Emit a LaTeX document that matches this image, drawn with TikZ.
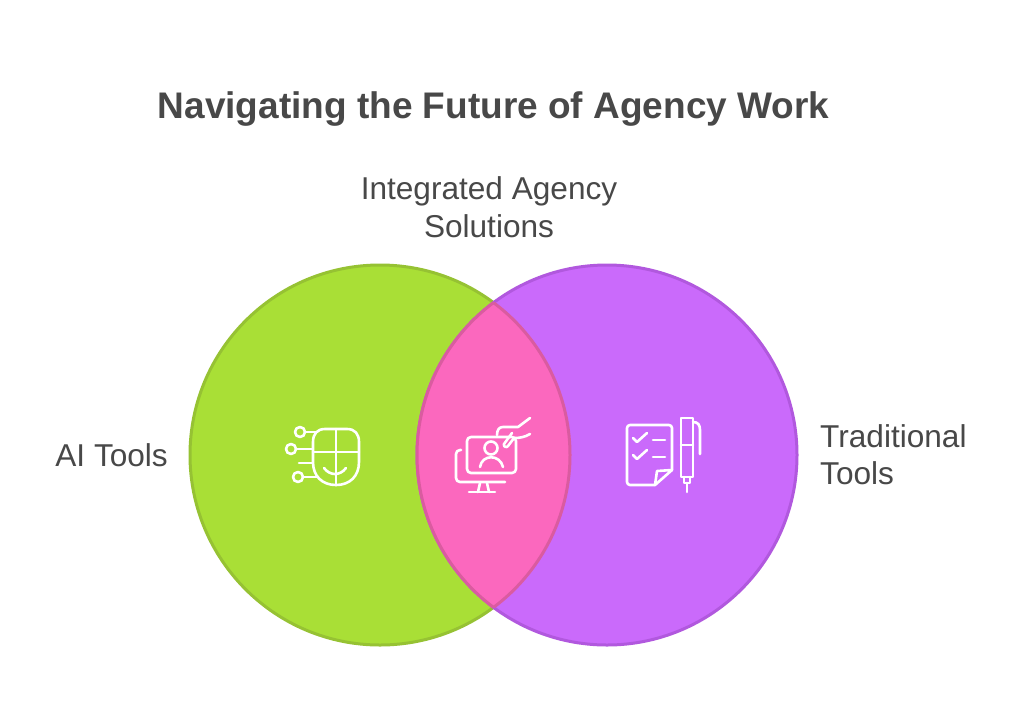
\documentclass[tikz,border=0pt]{standalone}
\usepackage{fontspec}
\setmainfont{Liberation Sans}
\definecolor{textgray}{HTML}{484848}
\definecolor{aifill}{HTML}{A9DF36}
\definecolor{aiedge}{HTML}{96C233}
\definecolor{tradfill}{HTML}{CA6AFB}
\definecolor{tradedge}{HTML}{B158DE}
\definecolor{mixfill}{HTML}{FB68BE}
\definecolor{mixedge}{HTML}{DA5BA0}
\tikzset{
	heading/.style={text=textgray, font=\fontsize{37}{44}\selectfont\bfseries, inner sep=0pt},
	label/.style={text=textgray, font=\fontsize{31.6}{37}\selectfont, inner sep=0pt},
	glyph/.style={draw=white, line width=2.6pt, line cap=round, line join=round},
}

\begin{document}
\begin{tikzpicture}[x=1pt, y=-1pt]
\useasboundingbox (0, 0) rectangle (1024, 721);
\fill[white] (0, 0) rectangle (1024, 721);

\node[heading, anchor=base] (title) at (493.5, 118) {Navigating the Future of Agency Work};
\node[label, anchor=base] (mixtop) at (489, 199.5) {Integrated Agency};
\node[label, anchor=base] (mixbottom) at (489, 237) {Solutions};
\node[label, anchor=base east] (ailabel) at (168, 466) {AI Tools};
\node[label, anchor=base west] (tradtop) at (820, 447) {Traditional};
\node[label, anchor=base west] (tradbottom) at (820, 484) {Tools};

\draw[aiedge, fill=aifill, line width=3pt] (380, 455) circle (190);
\draw[tradedge, fill=tradfill, line width=3pt] (607, 455) circle (190);
\begin{scope}
	\clip (380, 455) circle (190);
	\fill[mixfill] (607, 455) circle (190);
	\draw[mixedge, line width=3pt] (607, 455) circle (190);
\end{scope}
\begin{scope}
	\clip (607, 455) circle (190);
	\draw[mixedge, line width=3pt] (380, 455) circle (190);
\end{scope}

% mouse
\draw[glyph] (325, 429) -- (347, 429) .. controls (355, 429) and (359, 434) .. (359, 442) -- (359, 462) .. controls (359, 476) and (350, 485) .. (336, 485) .. controls (322, 485) and (313, 476) .. (313, 462) -- (313, 442) .. controls (313, 434) and (317, 429) .. (325, 429) -- cycle;
\draw[glyph] (336, 429) -- (336, 485);
\draw[glyph] (313, 452) -- (359, 452);
\draw[glyph] (324, 468) .. controls (330, 476) and (340, 476) .. (346, 468);
\foreach \cx/\cy/\ex in {300/432/317, 291/449/313, 298/477/317} {
	\draw[glyph] (\cx, \cy) circle (5);
	\draw[glyph] (\cx+5, \cy) -- (\ex, \cy);
}
\draw[glyph] (299, 463) -- (313, 463);

% monitor
\draw[glyph, rounded corners=4pt] (467, 437) rectangle (516, 473);
\draw[glyph, rounded corners=4pt] (461, 450) -- (456, 450) -- (456, 482) -- (505, 482);
\draw[glyph] (480, 483) -- (478, 492);
\draw[glyph] (487, 483) -- (489, 492);
\draw[glyph] (469, 492) -- (495, 492);
\draw[glyph] (491, 448) circle (6.5);
\draw[glyph] (480, 467) .. controls (482, 454) and (500, 454) .. (503, 467);
\draw[glyph] (530, 418) -- (518, 427) -- (503, 427) .. controls (499, 427) and (497, 430) .. (497, 435);
\draw[glyph] (530, 434) .. controls (525, 437) and (520, 438) .. (514, 438);
\draw[glyph] (512, 433) -- (504, 444) .. controls (503, 447) and (507, 448) .. (508, 446) -- (514, 438);

% checklist
\draw[glyph, rounded corners=3pt] (655, 485) -- (627, 485) -- (627, 425) -- (672, 425) -- (672, 470);
\draw[glyph] (672, 470) -- (655, 485) -- (657, 471) -- cycle;
\foreach \dy in {0, 17} {
	\draw[glyph] (633, 438+\dy) -- (637, 442+\dy) -- (647, 433+\dy);
	\draw[glyph] (653, 440+\dy) -- (665, 440+\dy);
}

% pen
\draw[glyph] (681, 418) rectangle (693, 477);
\draw[glyph] (681, 445) -- (693, 445);
\draw[glyph] (684, 477) -- (684, 483) -- (690, 483) -- (690, 477);
\draw[glyph] (687, 483) -- (687, 492);
\draw[glyph] (693, 422) .. controls (698, 422) and (700, 425) .. (700, 430) -- (700, 454);
\end{tikzpicture}
\end{document}
